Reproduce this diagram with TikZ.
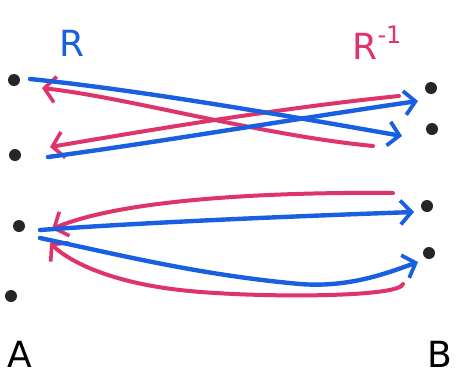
\documentclass[tikz,border=0pt]{standalone}
\usepackage{fontspec}
\setmainfont{DejaVu Sans}
\usetikzlibrary{arrows.meta}
\definecolor{pen blue}{RGB}{25,95,225}
\definecolor{pen red}{RGB}{222,52,105}
\begin{document}
\begin{tikzpicture}[x=1pt,y=-1pt,
  dot/.style={circle,fill=black!85,inner sep=0pt,minimum size=12pt},
  bluearrow/.style={draw=pen blue,line width=4.4pt,line cap=round,-{Straight Barb[length=11pt,width=24pt,line width=3.8pt]}},
  redarrow/.style={draw=pen red,line width=4pt,line cap=round,-{Straight Barb[length=11pt,width=26pt,line width=3.6pt]}},
  lbl/.style={font=\fontsize{36}{36}\selectfont,inner sep=0pt}]
\useasboundingbox (0,0) rectangle (457,376);
\fill[white] (0,0) rectangle (457,376);
% dots
\node[dot] (a1) at (14,80) {};
\node[dot] (a2) at (15,155) {};
\node[dot] (a3) at (19,226) {};
\node[dot] (a4) at (11,296) {};
\node[dot] (b1) at (431,88) {};
\node[dot] (b2) at (432,129) {};
\node[dot] (b3) at (427,206) {};
\node[dot] (b4) at (429,253) {};
% labels
\node[lbl,text=pen blue] (r) at (72,43) {R};
\node[lbl,text=pen red] (rinv) at (377,43) {R\raisebox{0.45em}{\fontsize{24}{24}\selectfont -1}};
\node[lbl,text=black] (la) at (20,354) {A};
\node[lbl,text=black] (lb) at (440,354) {B};
% anchor points
\coordinate (s1) at (30,79);
\coordinate (t1) at (402,136);
\coordinate (s2) at (48,157);
\coordinate (t2) at (418,101);
\coordinate (u1) at (399,96);
\coordinate (v1) at (50,147);
\coordinate (u2) at (373,146);
\coordinate (v2) at (42,88);
\coordinate (s3) at (40,230);
\coordinate (t3) at (414,212);
\coordinate (u3) at (393,193);
\coordinate (v3) at (52,229);
\coordinate (s4) at (40,238);
\coordinate (t4) at (418,262);
\coordinate (u4) at (403,284);
\coordinate (v4) at (50,243);
% red arrows (R^{-1})
\draw[redarrow] (u1) .. controls (280,108) and (150,130) .. (v1);
\draw[redarrow] (u2) .. controls (260,135) and (130,98) .. (v2);
\draw[redarrow] (u3) .. controls (300,192) and (130,196) .. (v3);
\draw[redarrow] (u4) .. controls (400,298) and (250,298) .. (180,290) .. controls (110,282) and (70,262) .. (v4);
% blue arrows (R)
\draw[bluearrow] (s1) .. controls (140,90) and (300,118) .. (t1);
\draw[bluearrow] (s2) .. controls (160,142) and (300,118) .. (t2);
\draw[bluearrow] (s3) .. controls (150,222) and (300,216) .. (t3);
\draw[bluearrow] (s4) .. controls (120,255) and (200,275) .. (300,284) .. controls (350,288) and (390,272) .. (t4);
\end{tikzpicture}
\end{document}
